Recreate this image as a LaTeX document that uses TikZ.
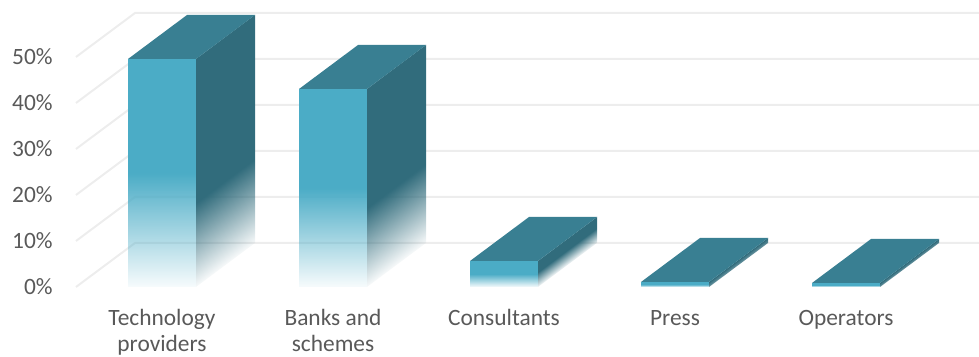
\documentclass[tikz,border=0pt]{standalone}
\usepackage{fontspec}
\setmainfont{Carlito}
\usetikzlibrary{fadings}
\definecolor{frontc}{HTML}{4BACC6}
\definecolor{topc}{HTML}{397F92}
\definecolor{sidec}{HTML}{316C7C}
\definecolor{gridc}{HTML}{EDEDED}
\definecolor{textc}{HTML}{595959}
% opacity masks: white = opaque, black = transparent
% (the fitted path covers 25bp..75bp of each shading)
\pgfdeclareverticalshading{shfront}{100bp}{color(0bp)=(black!96); color(25bp)=(black!96); color(50bp)=(white); color(100bp)=(white)}
\pgfdeclarefading{frontfade}{\pgfuseshading{shfront}}
\pgfdeclareverticalshading{shsideA}{100bp}{color(0bp)=(black!97); color(25bp)=(black!97); color(43.5bp)=(white); color(100bp)=(white)}
\pgfdeclarefading{sideA}{\pgfuseshading{shsideA}}
\pgfdeclareverticalshading{shsideB}{100bp}{color(0bp)=(black!97); color(25bp)=(black!97); color(45bp)=(white); color(100bp)=(white)}
\pgfdeclarefading{sideB}{\pgfuseshading{shsideB}}
\pgfdeclareverticalshading{shsideC}{100bp}{color(0bp)=(black!96); color(25bp)=(black!96); color(54bp)=(white); color(100bp)=(white)}
\pgfdeclarefading{sideC}{\pgfuseshading{shsideC}}
\pgfdeclareverticalshading{shsideD}{100bp}{color(0bp)=(black!30); color(25bp)=(black!30); color(75bp)=(white); color(100bp)=(white)}
\pgfdeclarefading{sideD}{\pgfuseshading{shsideD}}
\begin{document}
\begin{tikzpicture}[x=0.5pt,y=0.5pt,
  gridline/.style={draw=gridc,line width=1pt},
  lab/.style={text=textc,inner sep=0pt,font=\fontsize{11.7}{13}\selectfont}]
\useasboundingbox (0,0) rectangle (979,357);
% gridlines (left wall and back wall)
\foreach \k in {0,...,5}{
  \draw[gridline] (76,{70+46*\k}) -- (135,{114+46*\k}) -- (979,{114+46*\k});
}
% axis labels
\foreach \k/\t in {0/0,1/10,2/20,3/30,4/40,5/50}{
  \node[lab,anchor=base east] (y\k) at (53,{62+46*\k}) {\t\%};
}
% bars
\foreach \xl/\h/\sf in {128/228/sideA,299/198/sideB,470/26/sideC,641/5/sideD,812/4/sideD}{
  \fill[frontc,path fading=frontfade] (\xl,70) rectangle ({\xl+68},{70+\h});
  \begin{scope}[transform canvas={shift={({\xl+68},70)},yslant=0.7458}]
    \fill[sidec,path fading=\sf] (0,0) rectangle (59,\h);
  \end{scope}
  \fill[topc] (\xl,{70+\h}) -- ++(68,0) -- ++(59,44) -- ++(-68,0) -- cycle;
}
% category labels (base anchor = baseline of last line)
\node[lab,anchor=base,align=center] (c1) at (162,5) {Technology\\providers};
\node[lab,anchor=base,align=center] (c2) at (333,5) {Banks and\\schemes};
\node[lab,anchor=base] (c3) at (504,31) {Consultants};
\node[lab,anchor=base] (c4) at (675,31) {Press};
\node[lab,anchor=base] (c5) at (846,31) {Operators};
\end{tikzpicture}
\end{document}
